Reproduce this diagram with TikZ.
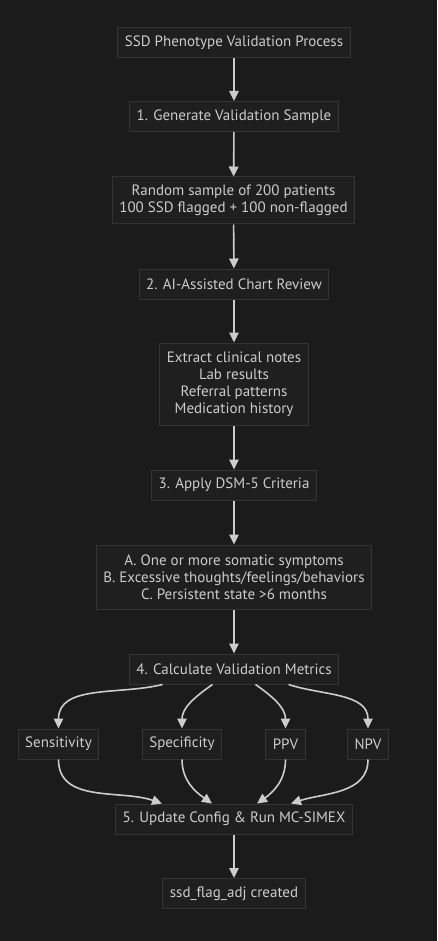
\documentclass[tikz,border=0pt]{standalone}
\usepackage{fontspec}
\setmainfont{PT Sans}
\usetikzlibrary{arrows.meta}
\definecolor{bg}{HTML}{1B1B1B}
\definecolor{boxfill}{HTML}{1F1F1F}
\definecolor{boxline}{HTML}{343434}
\definecolor{ink}{HTML}{CCCCCC}
\tikzset{
  box/.style={draw=boxline, fill=boxfill, line width=1pt, text=ink, align=center,
    inner xsep=7pt, minimum height=30pt,
    font=\fontsize{15}{17}\selectfont},
  >={Triangle[length=10pt,width=9.5pt]},
  edge/.style={->, draw=ink, line width=1.6pt}
}
\begin{document}
\begin{tikzpicture}[x=1pt, y=1pt]
          \fill [bg] (0, 0) rectangle (437, -941);
          \useasboundingbox (0, 0) rectangle (437, -941);
          \node [box] (T) at (234, -42.5) {SSD Phenotype Validation Process};
          \node [box] (G) at (234, -116.5) {1. Generate Validation Sample};
          \node [box, minimum height=47pt] (RS) at (233.5, -200.5) {Random sample of 200 patients\\100 SSD flagged + 100 non-flagged};
          \node [box] (AI) at (234, -284) {2. AI-Assisted Chart Review};
          \node [box, minimum height=82pt] (EX) at (234, -384) {Extract clinical notes\\Lab results\\Referral patterns\\Medication history};
          \node [box] (DS) at (234, -485) {3. Apply DSM-5 Criteria};
          \node [box, minimum height=64pt] (CR) at (234, -577) {A. One or more somatic symptoms\\B. Excessive thoughts/feelings/behaviors\\C. Persistent state >6 months};
          \node [box] (CM) at (234, -669) {4. Calculate Validation Metrics};
          \node [box] (SE) at (58.5, -744) {Sensitivity};
          \node [box] (SP) at (182, -744) {Specificity};
          \node [box] (PV) at (285.5, -744) {PPV};
          \node [box] (NV) at (368, -744) {NPV};
          \node [box] (UP) at (234, -819) {5. Update Config \& Run MC-SIMEX};
          \node [box] (FL) at (234, -893.5) {ssd\_flag\_adj created};
          \draw [edge] (T) -- (G);
          \draw [edge] (G) -- (RS);
          \draw [edge] (RS) -- (AI);
          \draw [edge] (AI) -- (EX);
          \draw [edge] (EX) -- (DS);
          \draw [edge] (DS) -- (CR);
          \draw [edge] (CR) -- (CM);
          \draw [edge] ([xshift=-71.5pt]CM.south) to [out=194, in=90] (SE.north);
          \draw [edge] ([xshift=-21.5pt]CM.south) to [out=215, in=90] (SP.north);
          \draw [edge] ([xshift=21.5pt]CM.south) to [out=-35, in=90] (PV.north);
          \draw [edge] ([xshift=54.5pt]CM.south) to [out=-18, in=90] (NV.north);
          \draw [edge] (SE.south) to [out=-90, in=161] ([xshift=-72pt]UP.north);
          \draw [edge] (SP.south) to [out=-90, in=145] ([xshift=-22pt]UP.north);
          \draw [edge] (PV.south) to [out=-90, in=35] ([xshift=23pt]UP.north);
          \draw [edge] (NV.south) to [out=-90, in=18] ([xshift=57pt]UP.north);
          \draw [edge] (UP) -- (FL);
\end{tikzpicture}
\end{document}
